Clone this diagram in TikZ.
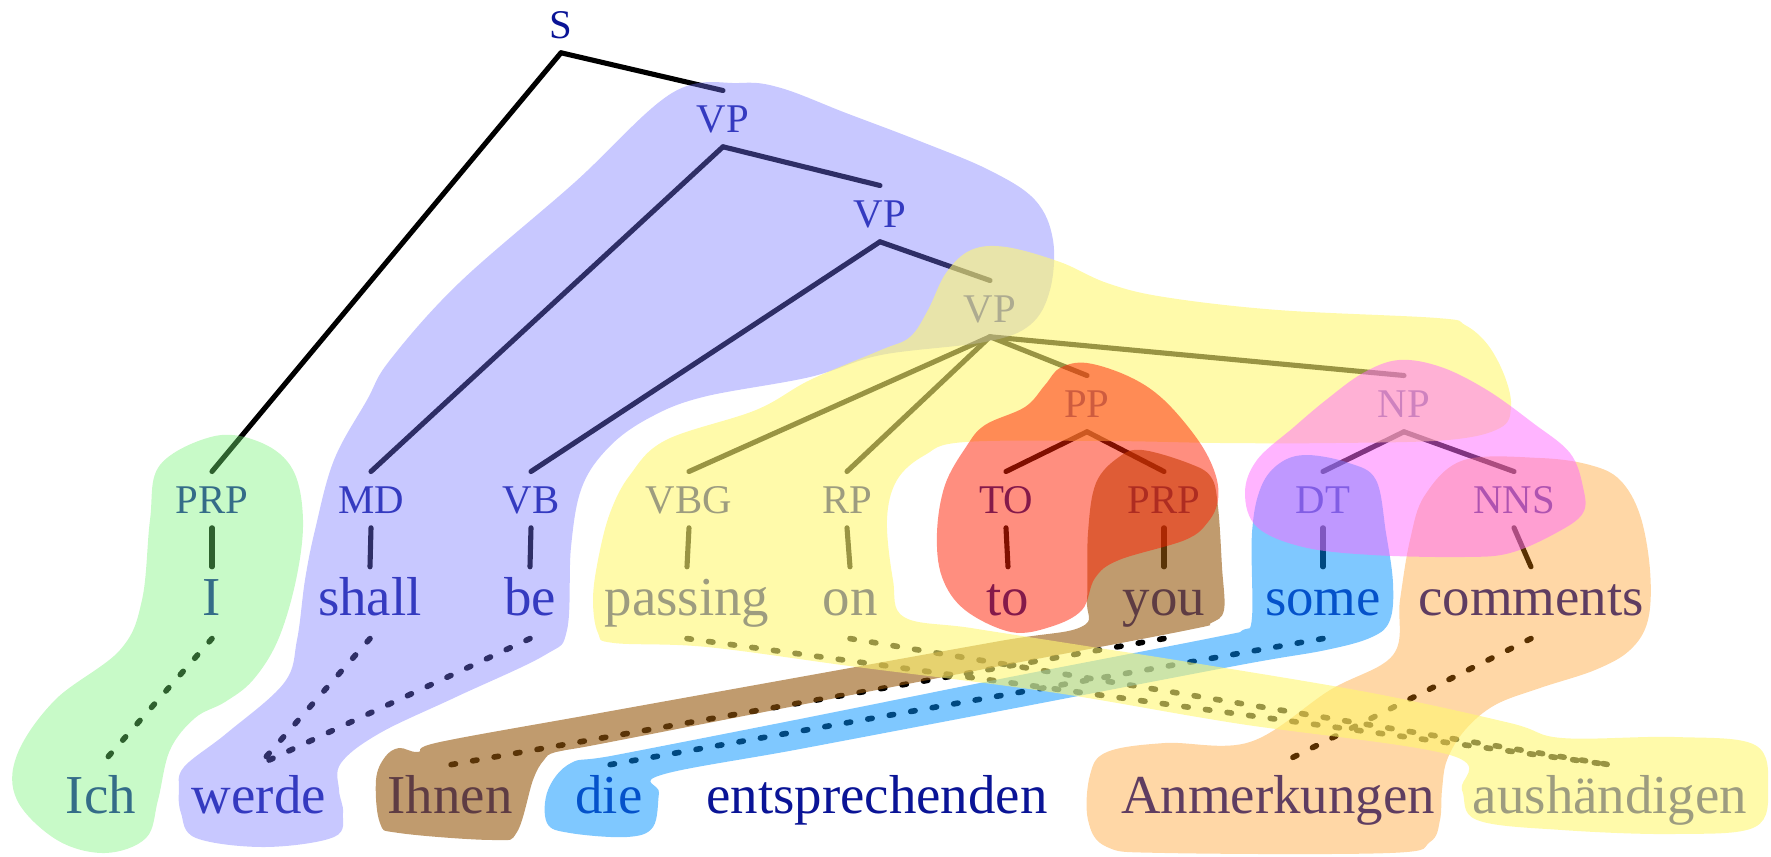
\documentclass[tikz,border=0pt]{standalone}
\usepackage{fontspec}
\setmainfont{Liberation Serif}
\definecolor{lacivert}{RGB}{10,20,150}
\definecolor{yesil}{RGB}{117,242,117}
\definecolor{lila}{RGB}{117,117,255}
\definecolor{sari}{RGB}{255,247,113}
\definecolor{kirmizi}{RGB}{255,30,0}
\definecolor{kahve}{RGB}{150,88,13}
\definecolor{mavi}{RGB}{0,145,255}
\definecolor{pembe}{RGB}{255,105,255}
\definecolor{turuncu}{RGB}{255,140,0}
\begin{document}
\begin{tikzpicture}[x=0.01cm, y=-0.01cm,
  etiket/.style={text=lacivert, font=\fontsize{11.6}{13}\selectfont,
    text height=7.6pt, text depth=0pt, inner sep=4pt, anchor=base},
  kelime/.style={text=lacivert, font=\fontsize{15.6}{18}\selectfont,
    text height=10pt, text depth=3pt, inner sep=3.5pt, anchor=base},
  dal/.style={line width=1.45pt, line cap=round},
  hiza/.style={line width=1.6pt, line cap=round, dash pattern=on 1.25pt off 4.95pt},
  blob/.style={fill opacity=0.5}]
  \useasboundingbox (0,0) rectangle (1771,857);

  % --- agac: ic dugumler ---
  \node[etiket] (S)   at (561,38)   {S};
  \node[etiket] (vp1) at (723,132)  {VP};
  \node[etiket] (vp2) at (880,227)  {VP};
  \node[etiket] (vp3) at (990,322)  {VP};
  \node[etiket] (pp)  at (1087,417) {PP};
  \node[etiket] (np)  at (1404,417) {NP};

  % on-terminaller
  \foreach \n/\x/\t in {prpI/212/PRP, mdShall/371/MD, vbBe/531/VB,
      vbgPassing/689/VBG, rpOn/847/RP, toTo/1006/TO, prpYou/1164/PRP,
      dtSome/1323/DT, nnsComments/1514/NNS}
    \node[etiket] (\n) at (\x,513) {\t};

  % ingilizce ve almanca sozcukler
  \foreach \n/\x in {I/212, shall/370, be/530, passing/687, on/850,
      to/1008, you/1164, some/1323, comments/1531}
    \node[kelime] (\n) at (\x,615) {\n};
  \foreach \n/\x/\t in {Ich/101/Ich, werde/259/werde, Ihnen/450/Ihnen,
      die/609/die, entsprechenden/877/entsprechenden,
      Anmerkungen/1278/Anmerkungen, aushaendigen/1610/aushändigen}
    \node[kelime] (\n) at (\x,813) {\t};

  % dallar
  \foreach \a/\b in {S/prpI, S/vp1, vp1/mdShall, vp1/vp2, vp2/vbBe, vp2/vp3,
      vp3/vbgPassing, vp3/rpOn, vp3/pp, vp3/np, pp/toTo, pp/prpYou,
      np/dtSome, np/nnsComments, prpI/I, mdShall/shall, vbBe/be,
      vbgPassing/passing, rpOn/on, toTo/to, prpYou/you, dtSome/some,
      nnsComments/comments}
    \draw[dal] (\a.south) -- (\b.north);

  % hizalama (noktali)
  \foreach \a/\b in {I/Ich, shall/werde, be/werde, passing/aushaendigen,
      on/aushaendigen, you/Ihnen, some/die, comments/Anmerkungen}
    \draw[hiza] (\a.south) -- (\b.north);

  % --- renkli bolgeler ---
  \fill[blob, yesil, fill opacity=0.4] plot[smooth cycle, tension=0.6] coordinates {
    (215,436) (262,443) (293,470) (303,520) (296,580) (278,640) (253,680)
    (225,702) (195,718) (170,750) (158,800) (146,838) (105,853) (57,840)
    (17,800) (17,755) (55,700) (120,650) (142,600) (150,520) (160,465)};
  \fill[blob, lila, fill opacity=0.4] plot[smooth cycle, tension=0.6] coordinates {
    (672,93) (739,83) (781,88) (846,113) (917,140) (989,170) (1035,200)
    (1053,240) (1050,290) (1030,325) (985,342) (881,355) (810,377)
    (703,397) (649,418) (609,447) (582,487) (571,547) (567,630) (545,655)
    (456,697) (380,733) (341,763) (339,790) (343,813) (334,837) (265,847)
    (196,838) (181,813) (179,790) (184,767) (227,733) (284,683) (297,640)
    (305,580) (315,530) (334,460) (367,400) (390,360) (459,283) (574,183)};
  \fill[blob, kahve, fill opacity=0.6] plot[smooth cycle, tension=0.6] coordinates {
    (399,748) (418,752) (440,742) (600,713) (800,677) (1000,641) (1081,627)
    (1087,600) (1088,533) (1096,483) (1119,457) (1142,450) (1188,463)
    (1211,477) (1218,507) (1222,567) (1224,610) (1211,623) (1188,630)
    (1000,666) (800,705) (600,744) (556,752) (544,760) (533,780) (517,832)
    (494,840) (399,833) (380,823) (376,780) (385,757)};
  \fill[blob, mavi] plot[smooth cycle, tension=0.6] coordinates {
    (571,763) (616,755) (800,719) (1000,679) (1211,638) (1243,630)
    (1252,617) (1252,533) (1261,487) (1280,463) (1307,455) (1349,463)
    (1376,480) (1386,533) (1393,583) (1390,620) (1372,637) (1326,650)
    (1240,665) (1000,711) (800,749) (661,775) (659,793) (653,827)
    (627,837) (570,833) (547,823) (548,790)};
  \fill[blob, turuncu, fill opacity=0.35] plot[smooth cycle, tension=0.6] coordinates {
    (1464,460) (1540,458) (1590,465) (1620,480) (1640,515) (1650,570)
    (1648,620) (1630,650) (1595,670) (1540,688) (1495,705) (1465,730)
    (1447,760) (1442,790) (1440,820) (1430,842) (1390,853) (1165,853)
    (1107,847) (1088,820) (1090,775) (1107,752) (1165,743) (1250,742)
    (1330,690) (1393,655) (1400,600) (1410,540) (1425,495)};
  \fill[blob, sari, fill opacity=0.6] plot[smooth cycle, tension=0.6] coordinates {
    (971,250) (1006,247) (1060,262) (1107,283) (1164,297) (1278,310)
    (1437,318) (1465,325) (1488,345) (1505,377) (1511,407) (1500,428)
    (1448,440) (1335,443) (1221,443) (1107,441) (965,442) (925,455)
    (897,480) (887,520) (893,580) (904,617) (971,628) (1086,646)
    (1188,662) (1372,693) (1510,723) (1562,738) (1675,737) (1755,745)
    (1768,787) (1755,827) (1675,834) (1562,830) (1477,820) (1462,790)
    (1450,755) (1234,723) (1050,692) (857,667) (707,647) (614,643)
    (598,633) (593,600) (598,560) (610,513) (630,475) (666,440) (756,410)
    (810,380) (881,350) (910,337) (928,310) (946,273)};
  \fill[blob, kirmizi] plot[smooth cycle, tension=0.6] coordinates {
    (1087,363) (1130,377) (1164,400) (1198,440) (1215,473) (1218,500)
    (1208,522) (1185,540) (1119,560) (1095,578) (1082,610) (1050,627)
    (1011,632) (965,610) (942,577) (937,533) (945,485) (966,447)
    (985,425) (1025,407) (1045,385) (1060,368)};
  \fill[blob, pembe] plot[smooth cycle, tension=0.6] coordinates {
    (1399,360) (1441,367) (1487,390) (1533,423) (1570,453) (1583,487)
    (1583,513) (1556,533) (1510,553) (1464,557) (1372,555) (1303,547)
    (1257,527) (1245,493) (1257,460) (1294,427) (1326,400) (1363,373)};
\end{tikzpicture}
\end{document}
